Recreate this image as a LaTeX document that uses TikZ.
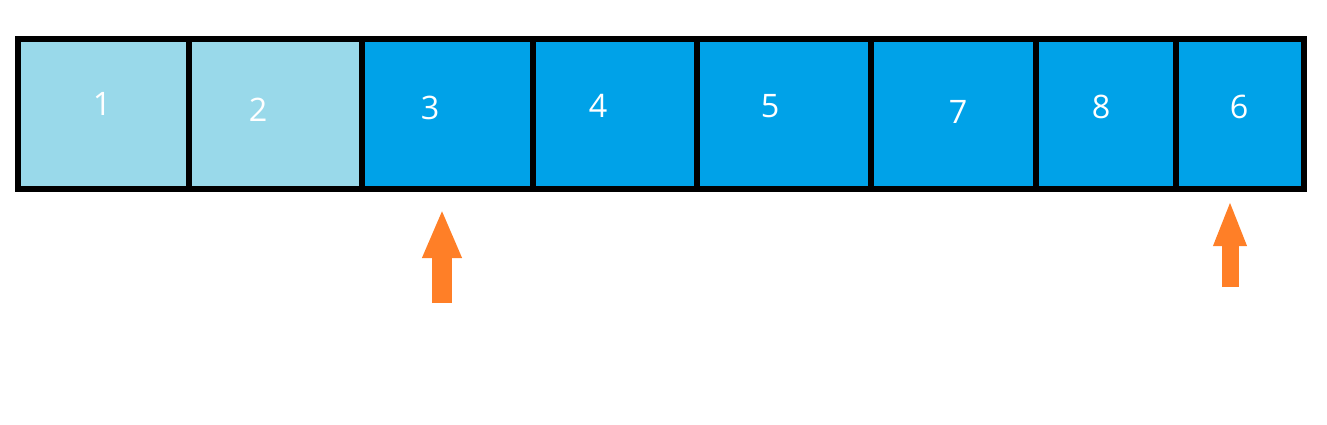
\documentclass[tikz,border=0pt]{standalone}
\usepackage{fontspec}
\setsansfont{Open Sans}
\usepackage{tikz}
\usetikzlibrary{arrows.meta,positioning}
\definecolor{paleblue}{HTML}{99D9EA}
\definecolor{paintblue}{HTML}{00A2E8}
\definecolor{paintorange}{HTML}{FF7F27}
\tikzset{
    every picture/.style={line width=0.5pt},
    cell/.style={rectangle,draw=black,line width=0.06cm,minimum height=1.5cm,inner sep=0pt},
    done/.style={cell,fill=paleblue},
    todo/.style={cell,fill=paintblue},
    num/.style={text=white,font=\sffamily\fontsize{9.2}{11}\selectfont,inner sep=0pt}
}

\begin{document}
\begin{tikzpicture}[x=0.01cm,y=-0.01cm]
        \useasboundingbox (0,0) rectangle (1327,424);

        % the array
        \node[done,minimum width=1.71cm] (c1) at (103.5,114) {};
        \node[done,minimum width=1.73cm] (c2) at (275.5,114) {};
        \node[todo,minimum width=1.71cm] (c3) at (447.5,114) {};
        \node[todo,minimum width=1.64cm] (c4) at (615,114) {};
        \node[todo,minimum width=1.74cm] (c5) at (784,114) {};
        \node[todo,minimum width=1.65cm] (c6) at (953.5,114) {};
        \node[todo,minimum width=1.40cm] (c7) at (1106,114) {};
        \node[todo,minimum width=1.28cm] (c8) at (1240,114) {};

        % values
        \node[num] (n1) at (102,104) {1};
        \node[num] (n2) at (258,110) {2};
        \node[num] (n3) at (430,108) {3};
        \node[num] (n4) at (598,106) {4};
        \node[num] (n5) at (770,106) {5};
        \node[num] (n6) at (958,112) {7};
        \node[num] (n7) at (1101,107) {8};
        \node[num] (n8) at (1239,107) {6};

        % pointers
        \coordinate (p1 base) at (442,303);
        \coordinate (p1 tip) at (442,209);
        \coordinate (p2 base) at (1230,287);
        \coordinate (p2 tip) at (1230,200);
        \draw[paintorange,line width=0.2cm,-{Triangle[length=0.49cm,width=0.36cm]}] (p1 base) -- (p1 tip);
        \draw[paintorange,line width=0.17cm,-{Triangle[length=0.46cm,width=0.30cm]}] (p2 base) -- (p2 tip);
\end{tikzpicture}
\end{document}
